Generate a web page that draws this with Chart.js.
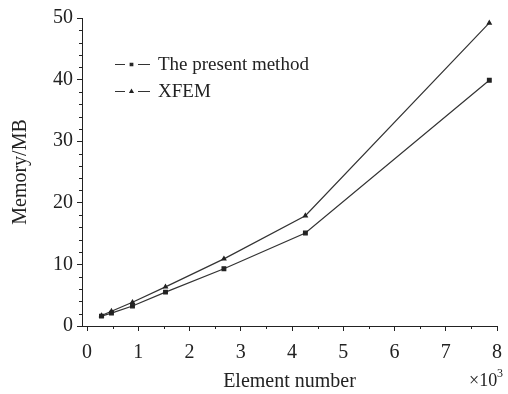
<!DOCTYPE html>
<html>
<head>
<meta charset="utf-8">
<script src="https://cdn.jsdelivr.net/npm/chart.js@4/dist/chart.umd.min.js"></script>
<style>
  html, body { margin: 0; padding: 0; background: #fff; }
  #wrap { width: 508px; height: 394px; }
</style>
</head>
<body>
<div id="wrap"><canvas id="memory-chart"></canvas></div>
<script>
// values (element number in thousands)
const elementNumbers = [0.28, 0.475, 0.885, 1.53, 2.67, 4.26, 7.85];
const presentMemory = [1.6, 2.1, 3.25, 5.5, 9.3, 15.1, 39.9];
const xfemMemory = [1.7, 2.4, 3.85, 6.35, 10.9, 17.9, 49.2];
const seriesNames = ['The present method', 'XFEM'];
const xTickValues = [0, 1, 2, 3, 4, 5, 6, 7, 8];
const yTickValues = [0, 10, 20, 30, 40, 50];

const ink = '#222';
const serif = "'Liberation Serif', 'DejaVu Serif', serif";

const toPoints = (ys) => elementNumbers.map((x, i) => ({ x: x, y: ys[i] }));

// minor ticks, inline legend and the x10^3 multiplier
const extras = {
  id: 'extras',
  afterDraw(chart) {
    const { ctx, scales: { x, y } } = chart;
    ctx.save();
    ctx.strokeStyle = ink;
    ctx.lineWidth = 1;
    ctx.beginPath();
    for (let v = 0.5; v < 8; v += 1) {
      const px = Math.round(x.getPixelForValue(v)) + 0.5;
      ctx.moveTo(px, x.top);
      ctx.lineTo(px, x.top + 3);
    }
    for (let v = 2; v < 50; v += 2) {
      if (v % 10 === 0) continue;
      const py = Math.round(y.getPixelForValue(v)) + 0.5;
      ctx.moveTo(y.right, py);
      ctx.lineTo(y.right - 3, py);
    }
    ctx.stroke();

    // legend
    const area = chart.chartArea;
    ctx.font = '19px ' + serif;
    ctx.textBaseline = 'middle';
    chart.data.datasets.forEach((ds, i) => {
      const cy = Math.round(area.top + 46 + i * 27) + 0.5;
      const x0 = area.left + 33;
      ctx.strokeStyle = ds.borderColor;
      ctx.lineWidth = 1.2;
      ctx.beginPath();
      ctx.moveTo(x0, cy); ctx.lineTo(x0 + 10, cy);
      ctx.moveTo(x0 + 23, cy); ctx.lineTo(x0 + 35, cy);
      ctx.stroke();
      ctx.fillStyle = ink;
      ctx.strokeStyle = ink;
      Chart.helpers.drawPoint(ctx, {
        pointStyle: ds.pointStyle, radius: 1.8, borderWidth: 1
      }, x0 + 16.5, cy);
      ctx.fillStyle = ink;
      ctx.fillText(ds.label, x0 + 43, cy + 1);
    });

    // multiplier
    ctx.textBaseline = 'alphabetic';
    ctx.textAlign = 'left';
    ctx.fillStyle = ink;
    ctx.font = '18px ' + serif;
    ctx.fillText('\u00d710', 469, 386);
    ctx.font = '12px ' + serif;
    ctx.fillText('3', 497, 377);
    ctx.restore();
  }
};

new Chart(document.getElementById('memory-chart'), {
  type: 'scatter',
  data: {
    datasets: [
      {
        label: seriesNames[0],
        data: toPoints(presentMemory),
        showLine: true,
        borderColor: '#333',
        backgroundColor: ink,
        borderWidth: 1.2,
        pointStyle: 'rect',
        pointRadius: 2.6,
        pointBorderColor: ink,
        pointBackgroundColor: ink,
      },
      {
        label: seriesNames[1],
        data: toPoints(xfemMemory),
        showLine: true,
        borderColor: '#333',
        backgroundColor: ink,
        borderWidth: 1.2,
        pointStyle: 'triangle',
        pointRadius: 2.2,
        pointBorderColor: ink,
        pointBackgroundColor: ink,
      },
    ],
  },
  options: {
    responsive: true,
    maintainAspectRatio: false,
    animation: false,
    layout: { padding: { top: 18, right: 11, left: 0, bottom: 0 } },
    plugins: {
      legend: { display: false },
      tooltip: { enabled: false },
    },
    scales: {
      x: {
        type: 'linear',
        min: -0.1,
        max: 8,
        afterBuildTicks: (s) => { s.ticks = xTickValues.map((v) => ({ value: v })); },
        afterFit: (s) => { s.height = 68; s.paddingLeft = 0; s.paddingRight = 0; },
        grid: { drawOnChartArea: false, tickLength: 5, tickColor: ink },
        border: { color: ink, width: 1 },
        ticks: { color: ink, font: { family: serif, size: 20 }, padding: 10, maxRotation: 0 },
        title: {
          display: true,
          text: 'Element number',
          color: ink,
          font: { family: serif, size: 20 },
          padding: { top: 0, bottom: 0 },
        },
      },
      y: {
        type: 'linear',
        min: 0,
        max: 50,
        afterBuildTicks: (s) => { s.ticks = yTickValues.map((v) => ({ value: v })); },
        afterFit: (s) => { s.width = 82; s.paddingTop = 0; s.paddingBottom = 0; },
        grid: { drawOnChartArea: false, tickLength: 5, tickColor: ink },
        border: { color: ink, width: 1 },
        ticks: { color: ink, font: { family: serif, size: 20 }, padding: 4 },
        title: {
          display: true,
          text: 'Memory/MB',
          color: ink,
          font: { family: serif, size: 20 },
          padding: { top: 9, bottom: 4 },
        },
      },
    },
  },
  plugins: [extras],
});
</script>
</body>
</html>
